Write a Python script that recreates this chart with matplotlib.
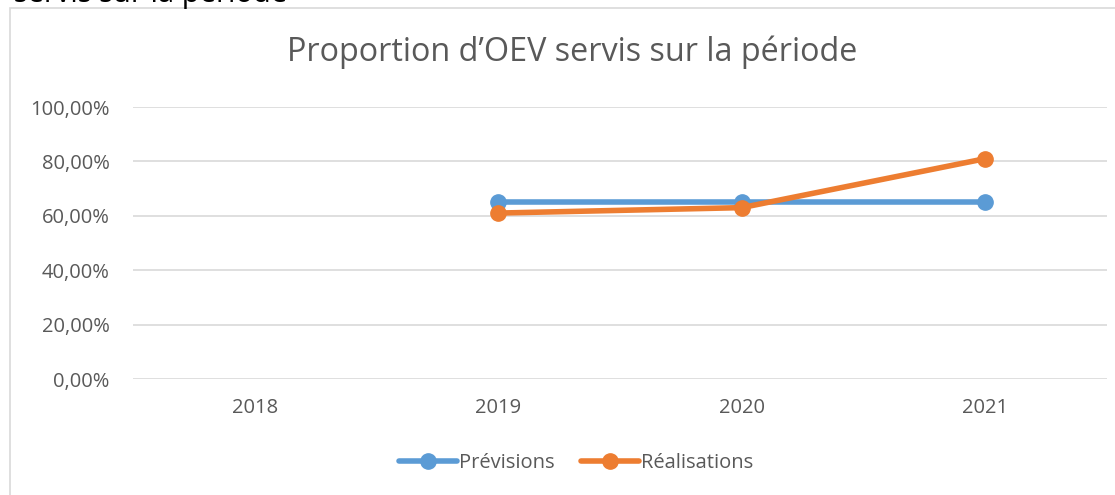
"""Proportion d'OEV servis sur la période : prévisions vs réalisations."""
import matplotlib
matplotlib.use('Agg')
import matplotlib.pyplot as plt
from matplotlib.patches import Rectangle
from matplotlib.ticker import FuncFormatter

# data
years = ['2018', '2019', '2020', '2021']
previsions = [None, 0.65, 0.65, 0.65]
realisations = [None, 0.61, 0.63, 0.81]

blue = '#5B9BD5'
orange = '#ED7D31'
grey_text = '#595959'

plt.rcParams['font.family'] = ['Open Sans', 'DejaVu Sans']

figure = plt.figure(figsize=(11.15, 4.95), dpi=100)

# chart frame (cut at right and bottom like the screenshot)
figure.patches.append(Rectangle((10 / 1115, -0.1), 1.2, (495 - 8) / 495 + 0.1,
                                transform=figure.transFigure, fill=False,
                                edgecolor='#D9D9D9', linewidth=1.2))

# heading of the document, mostly outside the picture
figure.text(287 / 1115, 1 - 2 / 495, 'Proportion d’OEV servis sur la période',
            fontsize=21, color='black', va='baseline', ha='right')

axes = figure.add_axes([133 / 1115, 1 - 379 / 495, 974 / 1115, 272 / 495])

x = list(range(len(years)))
xs_p = [i for i, v in zip(x, previsions) if v is not None]
ys_p = [v for v in previsions if v is not None]
xs_r = [i for i, v in zip(x, realisations) if v is not None]
ys_r = [v for v in realisations if v is not None]

axes.plot(xs_p, ys_p, color=blue, linewidth=4, marker='o', markersize=11,
          label='Prévisions', solid_capstyle='round', zorder=3)
axes.plot(xs_r, ys_r, color=orange, linewidth=4, marker='o', markersize=11,
          label='Réalisations', solid_capstyle='round', zorder=4)

axes.set_xlim(-0.5, 3.5)
axes.set_ylim(0, 1)
axes.set_xticks(x, years)
axes.set_yticks([0, 0.2, 0.4, 0.6, 0.8, 1.0])
axes.yaxis.set_major_formatter(
    FuncFormatter(lambda v, pos: f'{v * 100:.2f}%'.replace('.', ',')))
axes.tick_params(length=0, colors=grey_text, labelsize=14.5)
axes.tick_params(axis='y', pad=17)
axes.tick_params(axis='x', pad=14)
axes.grid(axis='y', color='#D9D9D9', linewidth=1.2)
axes.set_axisbelow(True)
for spine in axes.spines.values():
    spine.set_visible(False)

# chart title, centred on the chart frame rather than the plot area
figure.text(572 / 1115, 1 - 52 / 495, 'Proportion d’OEV servis sur la période',
            fontsize=23.3, color=grey_text, ha='center', va='center')

legend = axes.legend(loc='center', bbox_to_anchor=(0.455, -0.31), ncol=2,
                     frameon=False, fontsize=14.5, handlelength=2.9,
                     handletextpad=0.1, columnspacing=1.3)
for text in legend.get_texts():
    text.set_color(grey_text)

figure.savefig('out.png', dpi=100)
